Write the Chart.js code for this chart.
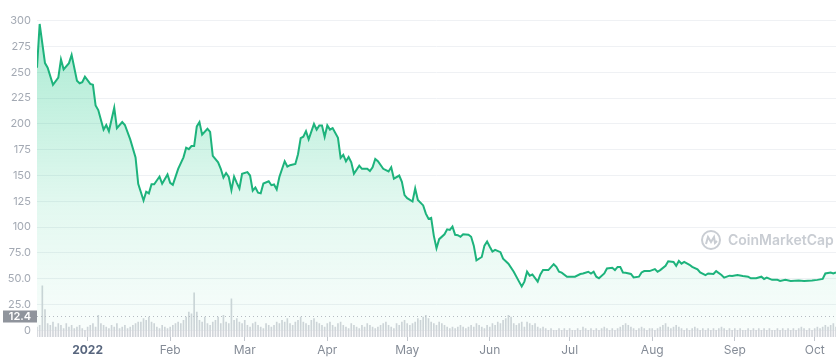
<!DOCTYPE html>
<html>
<head>
<meta charset="utf-8">
<script src="https://cdn.jsdelivr.net/npm/chart.js@4.4.1/dist/chart.umd.min.js"></script>
<style>
  html, body { margin: 0; padding: 0; background: #fff; }
  #wrap { width: 836px; height: 359px; position: relative; }
</style>
</head>
<body>
<div id="wrap"><canvas id="priceChart"></canvas></div>
<script>
// days counted from 2021-12-13
const priceDays = [0,1,3,4,6,8,9,10,12,13,15,16,17,18,20,21,22,23,25,26,27,29,30,32,33,35,37,38,40,41,42,43,44,46,47,49,
  50,51,53,55,56,57,58,59,60,61,62,64,65,66,68,69,70,71,72,73,74,75,76,77,79,80,81,82,83,84,85,87,88,89,90,91,93,94,95,97,98,99,
  100,101,102,104,105,106,107,108,109,110,111,113,114,115,116,117,118,119,121,122,124,125,126,127,128,130,132,133,134,136,137,138,139,141,142,143,145,146,147,148,149,
  150,151,153,154,155,156,157,158,159,160,162,163,164,165,167,168,169,170,171,172,174,175,177,179,181,182,183,184,185,186,188,189,190,192,194,195,196,197,199,
  200,202,204,205,207,208,209,210,211,213,214,216,217,218,219,220,221,223,224,226,227,228,230,232,233,234,236,237,239,240,241,242,243,245,246,248,249,
  251,252,254,255,257,258,260,261,263,265,267,268,270,272,273,274,276,278,279,281,283,286,288,291,293,295,296,298,299,300];
const prices = [254.6,297,259,254.6,238,245,262.6,253,259,267,242,239.5,240.4,245.8,238.9,238,218,213.5,194.5,199,193,215.7,196,201.8,199,185,167.6,142,125.8,134.3,132.7,141.5,141.5,149,142,151,
  142.9,141,156.5,167.6,177,175.5,178.6,178.6,197.6,201.8,189.7,195.4,192.3,169,162.8,156.5,148,152.4,148.6,135.8,149,142.9,137.5,151.7,153.3,150,135.3,138.4,133.4,132.7,142.2,144.4,140.6,141.3,136.5,148.6,163.8,158.7,160,161.2,170.7,186.3,
  187.6,193,185,200,194.5,198.6,198.6,187.5,198.6,194.5,196,186.6,167,170,163.8,168,162.8,151.7,159.6,156.5,156.5,154.3,158,166,163.8,156.5,153.9,158,147,150,143.8,131,128,124.8,137.5,126.3,121,113,108,109,91.5,
  79.5,88.3,93,97.8,97.2,100.4,92.5,92.1,90.6,93,92.5,90.6,82,67.8,71,82,86,81,76.3,77.9,75.7,69.3,64.5,56.7,47.1,42.4,47.1,56.7,52.9,54,47.1,54,58.3,58.3,64,61.4,56.7,55.8,51.9,
  51.9,51.9,54.5,55,56.7,55,56.7,51.9,50.3,55,59.8,60.5,58.3,61.4,61.4,56,55.7,54.5,51.2,51.9,56,57.3,57.3,59.2,56.7,58.3,62.4,66.8,66.2,62.4,67.1,64.5,66.2,63.4,61.4,59,56,
  53.5,55,54.5,57.3,53.5,51,52.9,52.6,53.5,52.6,51.9,50.3,50.3,51.9,49.7,51,48.8,48.8,47.8,48.8,47.8,48.1,47.8,48.1,48.8,49.7,55,56,55,56];

// daily volume, index = day
const volumes = [
  6,7,30.7,16.5,8,7,9,6,8,7,
  5,8,6,7,5,6,7,5,4,6,
  7,8,6,13,8,7,6,5,7,6,
  8,5,6,7,5,6,7,8,9,9,
  11,10,12,9,8,6,5,7,6,5,
  6,7,8,9,8,10,12,15,14,26.6,
  15,10,9,12,8,7,9,10,12,8,
  13,9,8,23,10,11,9,8,10,7,
  6,8,9,7,6,5,8,7,6,7,
  9,8,10,9,11,8,7,9,10,12,
  9,8,7,10,11,9,8,7,6,8,
  9,7,6,8,9,7,6,5,8,7,
  6,5,7,6,8,7,6,5,6,7,
  8,9,7,6,5,8,7,9,10,8,
  7,8,9,11,10,12,13,11,9,8,
  7,9,8,7,6,5,6,5,6,7,
  6,5,6,7,6,8,7,6,5,7,
  6,8,7,9,8,10,11,13,12,8,
  7,8,9,6,9,8,7,8,6,5,
  6,5,4,5,4,4,5,4,5,4,
  5,4,4,5,4,6,5,4,5,4,
  5,4,5,6,5,4,5,4,5,6,
  7,8,7,6,5,4,5,6,5,4,
  5,5,4,5,6,7,8,6,5,6,
  7,6,5,4,5,4,5,6,5,4,
  5,4,5,4,5,4,5,6,5,4,
  5,4,5,4,5,4,4,5,4,5,
  4,5,4,5,4,5,4,4,5,4,
  5,4,5,4,5,4,5,6,5,4,
  5,4,5,6,5,6,7,6,7,8,6];

const monthDays = [19, 50, 78, 109, 139, 170, 200, 231, 262, 292];
const monthLabels = ['2022', 'Feb', 'Mar', 'Apr', 'May', 'Jun', 'Jul', 'Aug', 'Sep', 'Oct'];
const priceTicks = [0, 25, 50, 75, 100, 125, 150, 175, 200, 225, 250, 275, 300];
const volumeMark = 12.4;

const green = '#1db37c';

const extras = {
  id: 'extras',
  beforeDatasetsDraw(chart) {
    const { ctx, chartArea } = chart;
    // watermark
    const cx = chartArea.right - 125, cy = chartArea.bottom - 97;
    ctx.save();
    ctx.strokeStyle = '#c9cdd3';
    ctx.lineWidth = 2;
    ctx.beginPath();
    ctx.arc(cx, cy, 9, 0, Math.PI * 2);
    ctx.stroke();
    ctx.beginPath();
    ctx.moveTo(cx - 5, cy + 4);
    ctx.lineTo(cx - 3, cy - 3);
    ctx.lineTo(cx, cy + 2);
    ctx.lineTo(cx + 3, cy - 3);
    ctx.lineTo(cx + 4, cy + 3);
    ctx.lineTo(cx + 6, cy + 1);
    ctx.stroke();
    ctx.fillStyle = '#c9cdd3';
    ctx.font = '600 14px Inter, "Noto Sans", sans-serif';
    ctx.textBaseline = 'middle';
    ctx.fillText('CoinMarketCap', cx + 17, cy + 1);
    ctx.restore();
  },
  afterDatasetsDraw(chart) {
    const { ctx, chartArea } = chart;
    const y = Math.round(chart.scales.yv.getPixelForValue(volumeMark)) + 0.5;
    ctx.save();
    ctx.strokeStyle = '#b5bac2';
    ctx.lineWidth = 1;
    ctx.setLineDash([1, 3]);
    ctx.beginPath();
    ctx.moveTo(chartArea.left, y);
    ctx.lineTo(chartArea.right, y);
    ctx.stroke();
    ctx.setLineDash([]);
    ctx.fillStyle = '#8f949c';
    ctx.fillRect(3, y - 6, 34, 12);
    ctx.fillStyle = '#ffffff';
    ctx.font = '600 11px Inter, "Noto Sans", sans-serif';
    ctx.textAlign = 'center';
    ctx.textBaseline = 'middle';
    ctx.fillText(String(volumeMark), 20, y + 0.5);
    ctx.restore();
  }
};

const ctx = document.getElementById('priceChart').getContext('2d');
new Chart(ctx, {
  data: {
    datasets: [{
      type: 'line',
      label: 'Price',
      data: priceDays.map((d, i) => ({ x: d, y: prices[i] })),
      borderColor: green,
      borderWidth: 2,
      pointRadius: 0,
      tension: 0,
      fill: 'origin',
      backgroundColor: (c) => {
        const area = c.chart.chartArea;
        if (!area) return 'rgba(22,199,132,0.2)';
        const g = c.chart.ctx.createLinearGradient(0, area.top, 0, area.bottom);
        g.addColorStop(0, 'rgba(22,199,132,0.38)');
        g.addColorStop(0.6, 'rgba(22,199,132,0.12)');
        g.addColorStop(1, 'rgba(22,199,132,0.02)');
        return g;
      },
      yAxisID: 'y',
      order: 1
    }, {
      type: 'bar',
      label: 'Volume',
      data: volumes.map((v, i) => ({ x: i, y: v })),
      backgroundColor: '#d2d5da',
      barThickness: 1,
      yAxisID: 'yv',
      order: 2
    }]
  },
  options: {
    responsive: true,
    maintainAspectRatio: false,
    animation: false,
    layout: { padding: { top: 6, left: 0, right: 0, bottom: 0 } },
    plugins: { legend: { display: false }, tooltip: { enabled: false } },
    scales: {
      x: {
        type: 'linear',
        offset: false,
        min: 0,
        max: 300,
        afterBuildTicks: (s) => { s.ticks = monthDays.map(v => ({ value: v })); },
        afterFit: (s) => { s.height = 22; },
        grid: { drawOnChartArea: false, tickLength: 4, color: '#c3c7ce', offset: false },
        border: { display: false },
        ticks: {
          padding: 2,
          maxRotation: 0,
          autoSkip: false,
          color: (c) => c.index === 0 ? '#58667e' : '#858c97',
          font: (c) => ({ family: 'Inter, "Noto Sans", sans-serif', size: 12, weight: c.index === 0 ? '700' : '400' }),
          callback: (v) => monthLabels[monthDays.indexOf(v)]
        }
      },
      y: {
        position: 'left',
        min: -6.6,
        max: 308,
        afterBuildTicks: (s) => { s.ticks = priceTicks.map(v => ({ value: v })); },
        afterFit: (s) => { s.width = 37; },
        grid: { color: '#eff1f4', drawTicks: false },
        border: { display: false },
        ticks: {
          padding: 6,
          color: '#a3a9b3',
          font: { family: 'Inter, "Noto Sans", sans-serif', size: 11 },
          callback: (v) => v === 0 ? '0' : (v >= 100 ? String(v) : v.toFixed(1))
        }
      },
      yv: {
        display: false,
        min: 0,
        max: 195
      }
    }
  },
  plugins: [extras]
});
</script>
</body>
</html>
